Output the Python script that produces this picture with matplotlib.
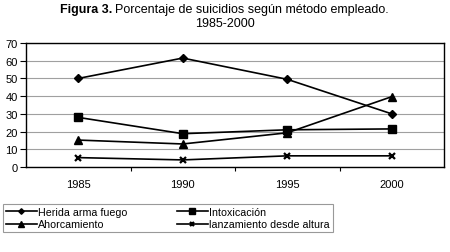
import matplotlib
matplotlib.use("Agg")
import matplotlib.pyplot as plt
from matplotlib.ticker import FixedLocator

plt.rcParams['font.family'] = ['Liberation Sans', 'DejaVu Sans']

# data
years = ['1985', '1990', '1995', '2000']
herida = [50, 61.5, 49.5, 30]
intoxicacion = [28, 18.8, 21, 21.5]
ahorcamiento = [15.2, 13, 19.3, 39.7]
lanzamiento = [5.3, 4, 6.3, 6.3]
labels = ['Herida arma fuego', 'Intoxicación', 'Ahorcamiento', 'lanzamiento desde altura']

W, H = 450, 253
fig = plt.figure(figsize=(W / 100, H / 100), dpi=100)
ax = fig.add_axes([26 / W, (H - 168) / H, 418 / W, 124 / H])

x = range(len(years))
kw = dict(color='black', linewidth=1.2)
l1, = ax.plot(x, herida, marker='D', markersize=4, **kw)
l2, = ax.plot(x, intoxicacion, marker='s', markersize=5.5, **kw)
l3, = ax.plot(x, ahorcamiento, marker='^', markersize=5.5, **kw)
l4, = ax.plot(x, lanzamiento, marker='x', markersize=5, markeredgewidth=1.6, **kw)

ax.set_xlim(-0.5, 3.5)
ax.set_ylim(0, 70)
ax.set_yticks(range(0, 71, 10))
ax.yaxis.grid(True, color='#a0a0a0', linewidth=0.8)
ax.set_axisbelow(True)
ax.set_xticks(list(x))
ax.set_xticklabels(years)
ax.xaxis.set_minor_locator(FixedLocator([0.5, 1.5, 2.5]))
ax.tick_params(axis='x', which='major', length=0, labelsize=8, pad=9)
ax.tick_params(axis='x', which='minor', length=3, width=0.8, direction='out')
ax.tick_params(axis='y', length=4, width=0.8, labelsize=8, pad=2)
for s in ax.spines.values():
    s.set_linewidth(1.0)
    s.set_color('black')

# title with bold prefix
fig.text(112 / W, 1 - 10 / H, 'Figura 3.', fontsize=9, fontweight='bold',
         ha='right', va='center')
fig.text(115 / W, 1 - 10 / H, 'Porcentaje de suicidios según método empleado.',
         fontsize=9, ha='left', va='center')
fig.text(225 / W, 1 - 24 / H, '1985-2000', fontsize=9, ha='center', va='center')

# legend fills column-wise, so order handles to get the reference rows
leg = fig.legend([l1, l3, l2, l4], [labels[0], labels[2], labels[1], labels[3]],
                 ncol=2, loc='upper left', bbox_to_anchor=(3 / W, 1 - 205 / H),
                 fontsize=7.7, frameon=True, fancybox=False, handlelength=2.9,
                 handletextpad=0.15, columnspacing=4.6, borderpad=0.25,
                 labelspacing=0.25, borderaxespad=0)
for h in leg.legend_handles:
    h.set_markersize(h.get_markersize() * 0.7)
leg.get_frame().set_edgecolor('#808080')
leg.get_frame().set_linewidth(0.8)

fig.savefig('out.png', dpi=100)
